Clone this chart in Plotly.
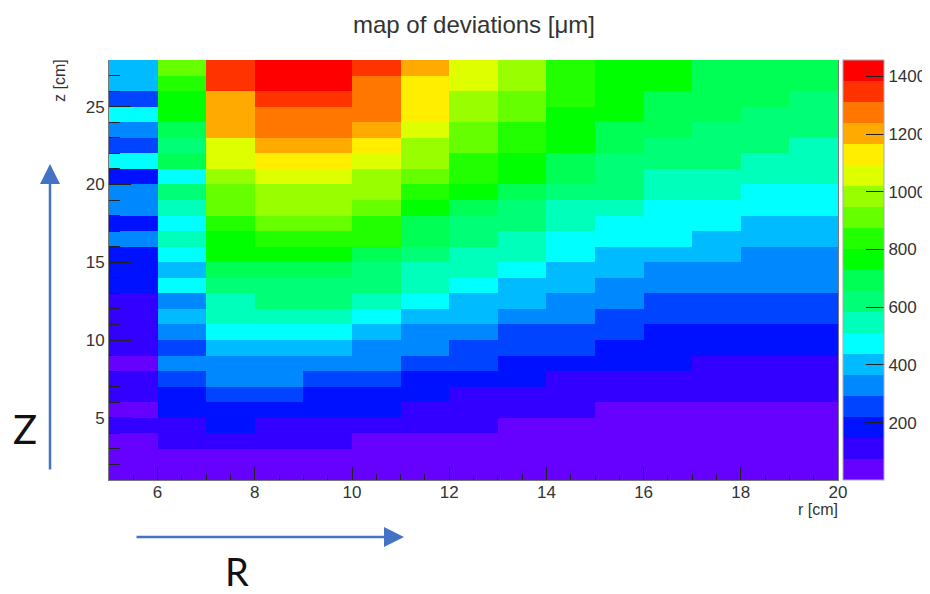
import plotly.graph_objects as go

# bin edges
r_edges = [5, 6, 7, 8, 9, 10, 11, 12, 13, 14, 15, 16, 17, 18, 19, 20]
z_edges = [28, 27, 26, 25, 24, 23, 22, 21, 20, 19, 18, 17, 16, 15, 14, 13, 12, 11, 10, 9, 8, 7, 6, 5, 4, 3, 2, 1]

# deviations [um] for each r bin, from the top z bin down to the bottom one
r05 = [401,401,256,474,329, 256,474,183,329,329, 183,329,183,183,183, 110,110,110,110,37, 110,110,37,110,37, 37,37]
r06 = [911,838,765,765,693, 620,693,474,620,547, 474,547,474,401,474, 329,401,329,256,329, 256,183,183,110,110, 37,37]
r07 = [1348,1348,1202,1202,1202, 1057,1057,984,911,911, 838,765,765,693,620, 547,547,474,401,329, 329,256,183,183,110, 37,37]
r08 = [1421,1421,1348,1275,1275, 1202,1130,1057,984,984, 911,838,765,693,620, 620,547,474,401,329, 329,256,183,110,110, 37,37]
r09 = [1421,1421,1348,1275,1275, 1202,1130,1057,984,984, 911,838,765,693,620, 620,547,474,401,329, 256,183,183,110,110, 37,37]
r10 = [1348,1275,1275,1275,1202, 1130,1057,984,984,911, 838,838,693,620,620, 547,474,401,329,329, 256,183,183,110,37, 37,37]
r11 = [1202,1130,1130,1130,1057, 984,984,911,838,765, 693,693,620,547,547, 474,401,329,329,256, 183,183,110,110,37, 37,37]
r12 = [1057,1057,984,984,911, 911,838,838,765,693, 620,620,547,547,474, 401,401,329,256,256, 183,110,110,110,37, 37,37]
r13 = [984,984,911,911,838, 838,765,765,693,620, 620,547,547,474,401, 401,329,256,256,183, 183,110,110,37,37, 37,37]
r14 = [838,838,838,765,765, 765,693,693,620,547, 547,474,474,401,401, 329,329,256,256,183, 110,110,110,37,37, 37,37]
r15 = [765,765,765,765,693, 693,620,620,620,547, 474,474,401,401,329, 329,256,256,183,183, 110,110,37,37,37, 37,37]
r16 = [765,765,693,693,693, 620,620,547,547,474, 474,474,401,329,329, 256,256,183,183,183, 110,110,37,37,37, 37,37]
r17 = [693,693,693,693,620, 620,620,547,547,474, 474,401,401,329,329, 256,256,183,183,110, 110,110,37,37,37, 37,37]
r18 = [693,693,693,620,620, 620,547,547,474,474, 401,401,329,329,329, 256,256,183,183,110, 110,110,37,37,37, 37,37]
r19 = [693,693,620,620,620, 547,547,547,474,474, 401,401,329,329,329, 256,256,183,183,110, 110,110,37,37,37, 37,37]
columns = [r05, r06, r07, r08, r09, r10, r11, r12, r13, r14, r15, r16, r17, r18, r19]
rows = [list(row) for row in zip(*columns)]

palette = ["#6600FF", "#3300FF", "#0011FF", "#0044FF", "#0088FF", "#00BBFF", "#00FFFF",
           "#00FFBB", "#00FF77", "#00FF55", "#00FF00", "#22FF00", "#66FF00", "#99FF00",
           "#DDFF00", "#FFEE00", "#FFAA00", "#FF7700", "#FF3300", "#FF0000"]
n = len(palette)
colorscale = []
for i, c in enumerate(palette):
    colorscale += [[i / n, c], [(i + 1) / n, c]]

# page geometry, in window pixels; the page body adds an 8 px offset to the figure
OFF = 8
W, H = 930, 594 - OFF
L, R, T, B = 109, 838, 60, 480
PW, PH = R - L, B - T
TEXT = "#333333"
FONT = "Liberation Sans"
BLUE = "#4472C4"
TICK = 17


def px(x):
    return (x - L) / PW


def py(y):
    return 1 - (y - T) / PH


fig = go.Figure(go.Heatmap(
    x=r_edges, y=z_edges, z=rows, zmin=1, zmax=1457, colorscale=colorscale, zsmooth=False,
    colorbar=dict(
        thickness=41, thicknessmode="pixels", len=PH, lenmode="pixels",
        x=px(843), xanchor="left", y=0.5, yanchor="middle",
        xpad=0, ypad=0,
        outlinecolor="#AAAAAA", outlinewidth=1, borderwidth=0,
        tickmode="array", tickvals=[200, 400, 600, 800, 1000, 1200, 1400],
        ticks="inside", ticklen=18, tickcolor="#222222", tickwidth=1,
        tickfont=dict(family=FONT, size=TICK, color=TEXT),
    ),
))


def txt(x, y, s, size, color=TEXT, family=FONT, anchor="center", angle=0):
    fig.add_annotation(x=px(x), y=py(y), xref="paper", yref="paper", text=s, showarrow=False,
                       font=dict(family=family, size=size, color=color), xanchor=anchor, yanchor="middle",
                       textangle=angle)


fig.update_layout(
    width=W, height=H, autosize=False, paper_bgcolor="white", plot_bgcolor="white",
    margin=dict(l=L - OFF, r=W - (R - OFF), t=T - OFF, b=H - (B - OFF), pad=0, autoexpand=False),
)
fig.update_xaxes(range=[5, 20], tick0=6, dtick=2, ticks="inside", ticklen=13,
                 tickcolor="#222222", tickwidth=1, showgrid=False, zeroline=False,
                 showline=True, linecolor="#777777", linewidth=1, mirror=False,
                 ticklabelstandoff=-3,
                 tickfont=dict(family=FONT, size=TICK, color=TEXT),
                 minor=dict(dtick=0.5, ticks="inside", ticklen=6, tickcolor="#222222", showgrid=False))
fig.update_yaxes(range=[1, 28], tick0=5, dtick=5, ticks="inside", ticklen=22,
                 tickcolor="#222222", tickwidth=1, showgrid=False, zeroline=False,
                 showline=True, linecolor="#777777", linewidth=1, mirror=True,
                 tickfont=dict(family=FONT, size=TICK, color=TEXT),
                 minor=dict(dtick=1, ticks="inside", ticklen=11, tickcolor="#222222", showgrid=False))

txt(474, 24, "map of deviations [μm]", 24)
txt(840, 509, "r [cm]", 16, anchor="right")
txt(59, 81, "z [cm]", 16, angle=-90)
txt(25, 429, "Z", 40, color="#111111", family="Lato")
txt(237, 571, "R", 38, color="#111111", family="Lato")

# hand-drawn arrows of the original slide
fig.add_annotation(x=px(50), y=py(164), xref="paper", yref="paper", ax=0, ay=307, text="",
                   showarrow=True, arrowhead=2, arrowsize=1.6, arrowwidth=2.5, arrowcolor=BLUE)
fig.add_annotation(x=px(404), y=py(537), xref="paper", yref="paper", ax=-269, ay=0, text="",
                   showarrow=True, arrowhead=2, arrowsize=1.6, arrowwidth=2.5, arrowcolor=BLUE)

fig.write_html("out.html")
